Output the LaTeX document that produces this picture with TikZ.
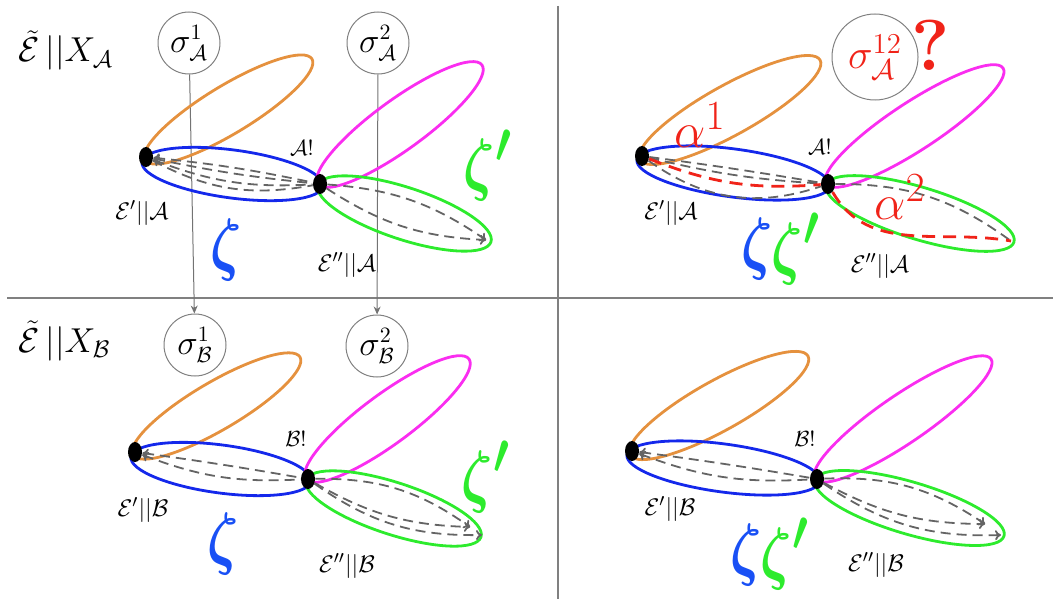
\documentclass[tikz,border=0pt]{standalone}
\usepackage{amsmath}
\usepackage{graphicx}
\usetikzlibrary{arrows.meta,shapes.geometric,backgrounds}
\definecolor{lobeorange}{RGB}{229,145,62}
\definecolor{lobeblue}{RGB}{20,40,235}
\definecolor{lobemagenta}{RGB}{250,45,240}
\definecolor{lobegreen}{RGB}{45,235,45}
\definecolor{zblue}{RGB}{25,80,245}
\definecolor{alphared}{RGB}{240,35,25}
\definecolor{dashgray}{RGB}{100,100,100}

\begin{document}
\begin{tikzpicture}[
  x=0.5pt, y=-0.5pt,
  >={To[length=3pt,width=5pt]},
  dot/.style={ellipse,fill=black,minimum width=7pt,minimum height=10pt,inner sep=0pt},
  lobe/.style={line width=1.4pt},
  gdash/.style={draw=dashgray,line width=0.9pt,dash pattern=on 5pt off 3pt},
  rdash/.style={draw=alphared,line width=1.4pt,dash pattern=on 6.5pt off 4pt},
  sig/.style={circle,draw=gray,line width=0.5pt,minimum size=31pt,inner sep=0pt,
    font=\fontsize{16}{18}\selectfont},
  title/.style={anchor=base west,inner sep=0pt,font=\fontsize{18}{22}\selectfont},
  lbl/.style={inner sep=0pt,font=\fontsize{12.5}{15}\selectfont},
  bang/.style={inner sep=0pt,font=\fontsize{11}{13}\selectfont},
  zeta/.style={inner sep=0pt,font=\fontsize{24.88}{28}\selectfont},
  alpha/.style={inner sep=0pt,text=alphared,font=\fontsize{24.88}{28}\selectfont},
  qmark/.style={inner sep=0pt,text=alphared,font=\fontsize{36}{38}\selectfont},
  divider/.style={draw=gray,line width=0.6pt},
  sarrow/.style={draw=gray!90!black,line width=0.5pt,-{Stealth[length=4pt,width=3.5pt]}}]
\useasboundingbox (0,0) rectangle (1053,599);

% dots
\node[dot] (aL) at (146,157) {};
\node[dot] (aR) at (320,184) {};
\node[dot] (cL) at (642,156) {};
\node[dot] (cR) at (828,184) {};
\node[dot] (bL) at (135,452) {};
\node[dot] (bR) at (308,479) {};
\node[dot] (dL) at (632,451) {};
\node[dot] (dR) at (817,479) {};
\coordinate (tA) at (486,240);
\coordinate (tC) at (1011,241);
\coordinate (tB1) at (482,535);
\coordinate (tB2) at (470,527);
\coordinate (tD1) at (1001,535);
\coordinate (tD2) at (985,524);

% sigma circles
\node[sig] (s1A) at (189,43) {$\sigma^1_{\mathcal{A}}$};
\node[sig] (s2A) at (378,43) {$\sigma^2_{\mathcal{A}}$};
\node[sig] (s1B) at (195,345) {$\sigma^1_{\mathcal{B}}$};
\node[sig] (s2B) at (377,346) {$\sigma^2_{\mathcal{B}}$};
\node[sig,minimum size=43pt,text=alphared,font=\fontsize{22}{24}\selectfont]
  (s12) at (875,57) {$\sigma^{12}_{\mathcal{A}}$};

% top left
\node[title] (hdA) at (18,62) {$\tilde{\mathcal{E}}\,||X_{\mathcal{A}}$};
\node[bang] (nA) at (302,148) {$\mathcal{A}!$};
\node[lbl] (eA1) at (142,213) {$\mathcal{E}'||\mathcal{A}$};
\node[lbl] (eA2) at (347,265) {$\mathcal{E}''||\mathcal{A}$};
\node[zeta,text=zblue] (zA) at (226,250) {\scalebox{1.1}[1.4]{$\boldsymbol{\zeta}$}};
\node[zeta,text=lobegreen] (zpA) at (488,166) {\scalebox{1.1}[1.4]{$\boldsymbol{\zeta'}$}};

% top right
\node[bang] (nC) at (820,147) {$\mathcal{A}!$};
\node[lbl] (eC1) at (671,213) {$\mathcal{E}'||\mathcal{A}$};
\node[lbl] (eC2) at (880,266) {$\mathcal{E}''||\mathcal{A}$};
\node[zeta,text=zblue] (zC) at (757,249) {\scalebox{1.1}[1.4]{$\boldsymbol{\zeta}$}};
\node[zeta,text=lobegreen] (zpC) at (796,249) {\scalebox{1.1}[1.4]{$\boldsymbol{\zeta'}$}};
\node[alpha] (a1) at (700,125) {$\alpha^1$};
\node[alpha] (a2) at (900,197) {$\alpha^2$};
\node[qmark] (q) at (931,45) {\bfseries ?};

% bottom left
\node[title] (hdB) at (18,352) {$\tilde{\mathcal{E}}\,||X_{\mathcal{B}}$};
\node[bang] (nB) at (296,439) {$\mathcal{B}!$};
\node[lbl] (eB1) at (143,510) {$\mathcal{E}'||\mathcal{B}$};
\node[lbl] (eB2) at (347,566) {$\mathcal{E}''||\mathcal{B}$};
\node[zeta,text=zblue] (zB) at (223,544) {\scalebox{1.1}[1.4]{$\boldsymbol{\zeta}$}};
\node[zeta,text=lobegreen] (zpB) at (486,477) {\scalebox{1.1}[1.4]{$\boldsymbol{\zeta'}$}};

% bottom right
\node[bang] (nD) at (805,439) {$\mathcal{B}!$};
\node[lbl] (eD1) at (670,509) {$\mathcal{E}'||\mathcal{B}$};
\node[lbl] (eD2) at (876,565) {$\mathcal{E}''||\mathcal{B}$};
\node[zeta,text=zblue] (zD) at (746,555) {\scalebox{1.1}[1.4]{$\boldsymbol{\zeta}$}};
\node[zeta,text=lobegreen] (zpD) at (785,554) {\scalebox{1.1}[1.4]{$\boldsymbol{\zeta'}$}};

\begin{scope}[on background layer]
\draw[divider] (7,298) -- (1053,298);
\draw[divider] (558,6) -- (558,599);
\draw[sarrow] (s1A) -- (s1B);
\draw[sarrow] (s2A) -- (s2B);

% lobes
\draw[lobe,lobeorange] (228.5,109.5) ellipse[x radius=97.6,y radius=24,rotate=31.2];
\draw[lobe,lobeblue] (232.5,174) ellipse[x radius=91.3,y radius=24,rotate=-7.6];
\draw[lobe,lobemagenta] (400,124.5) ellipse[x radius=101.3,y radius=25,rotate=36];
\draw[lobe,lobegreen] (404.5,213.5) ellipse[x radius=91,y radius=26,rotate=-18.2];

\draw[lobe,lobeorange] (730,110) ellipse[x radius=103,y radius=25,rotate=29];
\draw[lobe,lobeblue] (733.5,173) ellipse[x radius=97.4,y radius=24,rotate=-7.7];
\draw[lobe,lobemagenta] (914.5,126) ellipse[x radius=105.8,y radius=24,rotate=33.2];
\draw[lobe,lobegreen] (920,213.5) ellipse[x radius=98.2,y radius=26,rotate=-16.9];

\draw[lobe,lobeorange] (216.5,406) ellipse[x radius=96.8,y radius=24,rotate=30.4];
\draw[lobe,lobeblue] (221,469) ellipse[x radius=90.8,y radius=24,rotate=-7.6];
\draw[lobe,lobemagenta] (387.5,419) ellipse[x radius=101.2,y radius=25,rotate=36.4];
\draw[lobe,lobegreen] (393.5,508.5) ellipse[x radius=92,y radius=26,rotate=-18];

\draw[lobe,lobeorange] (719,405.5) ellipse[x radius=101.8,y radius=25,rotate=29.1];
\draw[lobe,lobeblue] (723.5,468) ellipse[x radius=97.4,y radius=24,rotate=-7.7];
\draw[lobe,lobemagenta] (903,419) ellipse[x radius=106.5,y radius=24,rotate=34.3];
\draw[lobe,lobegreen] (909.5,508) ellipse[x radius=98.6,y radius=26,rotate=-16.5];

% dashed paths
\draw[gdash,<-] (aL) to[bend left=3] (aR);
\draw[gdash,<-] (aL) to[bend right=3] (aR);
\draw[gdash,<-] (aL) to[bend right=12] (aR);
\draw[gdash] (aL) to[bend right=19] (aR);
\draw[gdash,->] (aR) to[bend left=15] (tA);
\draw[gdash,->] (aR) to[bend right=15] (tA);

\draw[gdash] (cL) to[bend left=1] (cR);
\draw[gdash] (cL) to[bend right=5] (cR);
\draw[gdash] (cL) to[bend right=27] (cR);
\draw[rdash] (cL) to[bend right=13] (cR);
\draw[gdash] (cR) to[bend left=18] (tC);
\draw[rdash] (cR) to[out=-60,in=170] (tC);

\draw[gdash,<-] (bL) to[bend left=1] (bR);
\draw[gdash,<-] (bL) to[bend right=12] (bR);
\draw[gdash,->] (bR) to[bend left=18] (tB2);
\draw[gdash,->] (bR) to[bend right=14] (tB2);
\draw[gdash,->] (bR) to[bend right=18] (tB1);

\draw[gdash,<-] (dL) to[bend left=1] (dR);
\draw[gdash,<-] (dL) to[bend right=12] (dR);
\draw[gdash,->] (dR) to[bend left=18] (tD2);
\draw[gdash,->] (dR) to[bend right=14] (tD2);
\draw[gdash,->] (dR) to[bend right=18] (tD1);
\end{scope}
\end{tikzpicture}
\end{document}
